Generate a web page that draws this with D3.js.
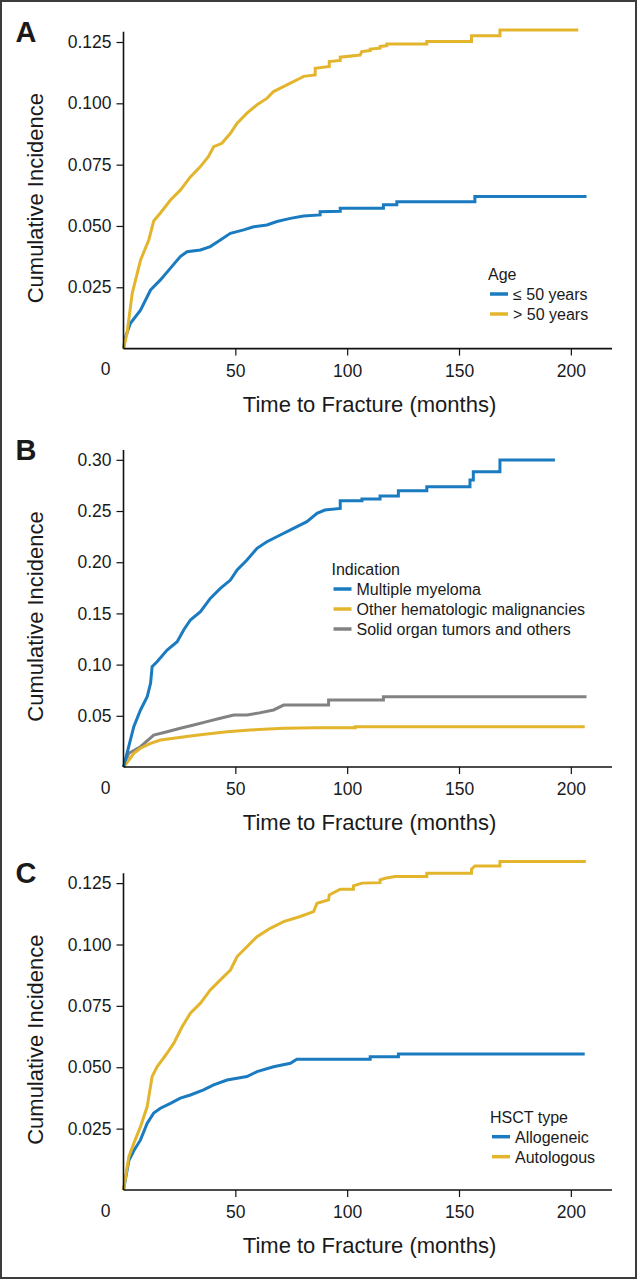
<!DOCTYPE html>
<html>
<head>
<meta charset="utf-8">
<script src="https://cdn.jsdelivr.net/npm/d3@7"></script>
<style>
  html, body { margin: 0; padding: 0; background: #fff; }
  svg { display: block; }
  text { font-family: "Liberation Sans", Arial, sans-serif; fill: #1a1a1a; }
</style>
</head>
<body>
<svg id="chart" width="637" height="1280"></svg>
<script>
// ---------------- DATA ----------------
const xTicks = [50, 100, 150, 200];
const originLabel = "0";
const xTitle = "Time to Fracture (months)";
const yTitle = "Cumulative Incidence";

// Panel A: Age
const ageTitle = "Age";
const ageLabels = ["\u2264 50 years", "> 50 years"];
const ageYTicks = [0.025, 0.050, 0.075, 0.100, 0.125];
const ageLe50 = [[0,0],[1,0.005],[3.1,0.0103],[7.6,0.0157],[12.1,0.0239],[16.5,0.028],[21,0.0328],[25.4,0.0375],[28.4,0.0395],[34.4,0.0402],[38.8,0.0416],[43.3,0.0443],[47.8,0.047],[53.7,0.0484],[58.2,0.0497],[64.1,0.0504],[68.6,0.0518],[74.6,0.0531],[80.5,0.0541],[87.9,0.0545],[87.9,0.0558],[96.9,0.0560],[96.9,0.0572],[116.2,0.0572],[116.2,0.0586],[122.2,0.0586],[122.2,0.0599],[157.1,0.0599],[157.1,0.062],[207,0.062]];
const ageGt50 = [[0,0],[1.6,0.0064],[3.9,0.0226],[7.6,0.036],[11.3,0.0443],[13.5,0.052],[16.5,0.0553],[21,0.0606],[25.4,0.0646],[29.9,0.070],[34.4,0.0742],[38,0.0783],[40.3,0.0823],[44,0.0837],[47.8,0.0878],[50.8,0.0919],[55.2,0.096],[59.7,0.0994],[64.1,0.102],[67.1,0.1048],[74.6,0.1082],[79,0.1102],[80.5,0.1110],[85.7,0.1116],[85.7,0.1143],[92,0.1150],[92,0.1170],[96.9,0.1175],[96.9,0.1188],[105.8,0.1197],[106.5,0.1211],[110.3,0.1215],[110.3,0.1221],[114.7,0.1225],[114.7,0.1232],[117.7,0.1235],[117.7,0.1242],[135.6,0.1242],[135.6,0.1252],[155.6,0.1252],[155.6,0.1275],[168.3,0.1275],[168.3,0.1299],[203.3,0.1299]];

// Panel B: Indication
const indTitle = "Indication";
const indLabels = ["Multiple myeloma", "Other hematologic malignancies", "Solid organ tumors and others"];
const indYTicks = [0.05, 0.10, 0.15, 0.20, 0.25, 0.30];
const indMyeloma = [[0,0],[3.1,0.0264],[4.6,0.0394],[7.6,0.0557],[10.6,0.0687],[12.1,0.0817],[12.8,0.098],[15,0.1028],[19.5,0.1143],[24,0.1224],[26.9,0.1338],[29.9,0.1436],[34.4,0.1517],[38.8,0.1647],[43.3,0.1745],[47.8,0.1826],[50.8,0.1924],[55.2,0.2021],[59.7,0.2136],[64.1,0.22],[70.1,0.2266],[76,0.2331],[82,0.2396],[86.5,0.2477],[90,0.251],[96.9,0.2525],[96.9,0.26],[106.6,0.26],[106.6,0.2617],[114.7,0.2617],[114.7,0.2646],[122.9,0.2646],[122.9,0.2698],[135.6,0.2698],[135.6,0.2737],[154.9,0.2737],[154.9,0.2803],[156.4,0.2803],[156.4,0.2884],[168.3,0.2884],[168.3,0.2998],[192.9,0.2998]];
const indOtherHeme = [[0,0],[2.4,0.0068],[4.6,0.0134],[7.6,0.0183],[12.1,0.0231],[16.5,0.0264],[22.5,0.028],[29.9,0.0303],[37.3,0.0322],[46.3,0.0345],[56.7,0.0361],[71.6,0.0378],[86.5,0.0384],[103.6,0.0384],[103.6,0.0394],[206.2,0.0394]];
const indSolid = [[0,0],[2.4,0.0134],[7.6,0.0198],[13.5,0.0312],[19.5,0.0345],[25.4,0.0378],[31.4,0.041],[37.3,0.0443],[43.3,0.0476],[49.3,0.0508],[55.2,0.0508],[59.7,0.0524],[67.1,0.0557],[71.6,0.0605],[91.7,0.0605],[91.7,0.0654],[116.2,0.0654],[116.2,0.0687],[207,0.0687]];

// Panel C: HSCT type
const hsctTitle = "HSCT type";
const hsctLabels = ["Allogeneic", "Autologous"];
const hsctYTicks = [0.025, 0.050, 0.075, 0.100, 0.125];
const hsctAllo = [[0,0],[2.4,0.0120],[4.6,0.016],[7.6,0.0204],[10.6,0.0272],[13.5,0.0313],[16.5,0.0333],[21,0.0353],[25.4,0.0374],[29.9,0.0387],[35.8,0.0408],[40.3,0.0428],[46.3,0.0448],[55.2,0.0462],[59.7,0.0482],[67.1,0.0502],[74.6,0.0516],[77.5,0.0533],[110.3,0.0533],[110.3,0.0543],[122.9,0.0543],[122.9,0.0554],[206.2,0.0554]];
const hsctAuto = [[0,0],[2.4,0.0136],[4.6,0.019],[7.6,0.0258],[10.6,0.034],[12.8,0.0462],[15,0.0502],[19.5,0.0557],[22.5,0.0598],[26.2,0.0665],[29.9,0.072],[34.4,0.0761],[38.8,0.0815],[43.3,0.0856],[47.8,0.0896],[50.8,0.0951],[55.2,0.0991],[59.7,0.1032],[65.6,0.1066],[71.6,0.1093],[79,0.1114],[85,0.1134],[86.5,0.1168],[91.7,0.1182],[92,0.1202],[96.9,0.1225],[102.8,0.1225],[102.8,0.1239],[106.6,0.125],[114.7,0.1252],[114.7,0.1263],[117,0.127],[121.4,0.1277],[135.6,0.1277],[135.6,0.129],[155.6,0.129],[155.6,0.1307],[157.1,0.132],[168.3,0.132],[168.3,0.1338],[206.7,0.1338]];

// ---------------- STYLE ----------------
const BLUE = "#1b7bc0", GOLD = "#e2b52c", GRAY = "#828282";

const panels = [
  { letter: "A", top: 31.7, bottom: 348.6, yMax: 0.1292, yTicks: ageYTicks, fmt: d3.format(".3f"),
    series: [{d: ageLe50, c: BLUE}, {d: ageGt50, c: GOLD}],
    legend: { x: 488, y: 280, title: ageTitle, items: [[ageLabels[0], BLUE], [ageLabels[1], GOLD]] } },
  { letter: "B", top: 450, bottom: 767, yMax: 0.3096, yTicks: indYTicks, fmt: d3.format(".2f"),
    series: [{d: indSolid, c: GRAY}, {d: indOtherHeme, c: GOLD}, {d: indMyeloma, c: BLUE}],
    legend: { x: 331.5, y: 575, title: indTitle, items: [[indLabels[0], BLUE], [indLabels[1], GOLD], [indLabels[2], GRAY]] } },
  { letter: "C", top: 873.3, bottom: 1190, yMax: 0.129, yTicks: hsctYTicks, fmt: d3.format(".3f"),
    series: [{d: hsctAllo, c: BLUE}, {d: hsctAuto, c: GOLD}],
    legend: { x: 490, y: 1122.7, title: hsctTitle, items: [[hsctLabels[0], BLUE], [hsctLabels[1], GOLD]] } }
];

const svg = d3.select("#chart");
const x = d3.scaleLinear().domain([0, 218.4]).range([123.5, 612]);

panels.forEach(p => {
  const y = d3.scaleLinear().domain([0, p.yMax]).range([p.bottom, p.top]);
  const g = svg.append("g");

  // series
  const line = d3.line().x(d => x(d[0])).y(d => y(d[1])).curve(d3.curveLinear);
  p.series.forEach(s => {
    g.append("path").attr("d", line(s.d)).attr("fill", "none")
      .attr("stroke", s.c).attr("stroke-width", 3).attr("stroke-linejoin", "miter");
  });

  // y axis
  const ya = g.append("g").attr("transform", `translate(${x(0)},0)`)
    .call(d3.axisLeft(y).tickValues(p.yTicks).tickFormat(p.fmt).tickSize(7).tickPadding(5));
  ya.select(".domain").attr("d", `M0,${p.top}V${p.bottom}`).attr("stroke", "#111").attr("stroke-width", 1.6);
  ya.selectAll(".tick line").attr("stroke", "#111").attr("stroke-width", 1.2);
  ya.selectAll(".tick text").style("font-family", "'Liberation Sans', Arial, sans-serif")
    .style("font-size", "17.5px").attr("fill", "#1a1a1a");

  // x axis
  const xa = g.append("g").attr("transform", `translate(0,${p.bottom})`)
    .call(d3.axisBottom(x).tickValues(xTicks).tickSize(7).tickPadding(9));
  xa.select(".domain").attr("d", `M${x(0)},0H${x.range()[1]}`).attr("stroke", "#111").attr("stroke-width", 1.6);
  xa.selectAll(".tick line").attr("stroke", "#111").attr("stroke-width", 1.2);
  xa.selectAll(".tick text").style("font-family", "'Liberation Sans', Arial, sans-serif")
    .style("font-size", "17.5px").attr("fill", "#1a1a1a");

  // origin label
  g.append("text").attr("x", x(0) - 18).attr("y", p.bottom + 26.5).attr("text-anchor", "middle")
    .style("font-size", "17.5px").text(originLabel);

  // titles
  g.append("text").attr("x", x(110)).attr("y", p.bottom + 63).attr("text-anchor", "middle")
    .style("font-size", "22px").text(xTitle);
  const cy = (p.top + p.bottom) / 2 + 8;
  g.append("text").attr("transform", `translate(43,${cy}) rotate(-90)`).attr("text-anchor", "middle")
    .style("font-size", "22px").text(yTitle);

  // panel letter
  g.append("text").attr("x", 15.5).attr("y", p.top + 10).style("font-size", "29px")
    .style("font-weight", "bold").attr("fill", "#111").text(p.letter);

  // legend
  const L = p.legend;
  g.append("text").attr("x", L.x).attr("y", L.y).style("font-size", "16px").text(L.title);
  L.items.forEach((it, i) => {
    const by = L.y + 20 * (i + 1);
    g.append("line").attr("x1", L.x + 2).attr("x2", L.x + 20).attr("y1", by - 6).attr("y2", by - 6)
      .attr("stroke", it[1]).attr("stroke-width", 3.5);
    g.append("text").attr("x", L.x + 25).attr("y", by).style("font-size", "16px").text(it[0]);
  });
});

// outer frame
svg.append("rect").attr("x", 1).attr("y", 1).attr("width", 635).attr("height", 1277)
  .attr("fill", "none").attr("stroke", "#3c3c3c").attr("stroke-width", 2);
</script>
</body>
</html>
